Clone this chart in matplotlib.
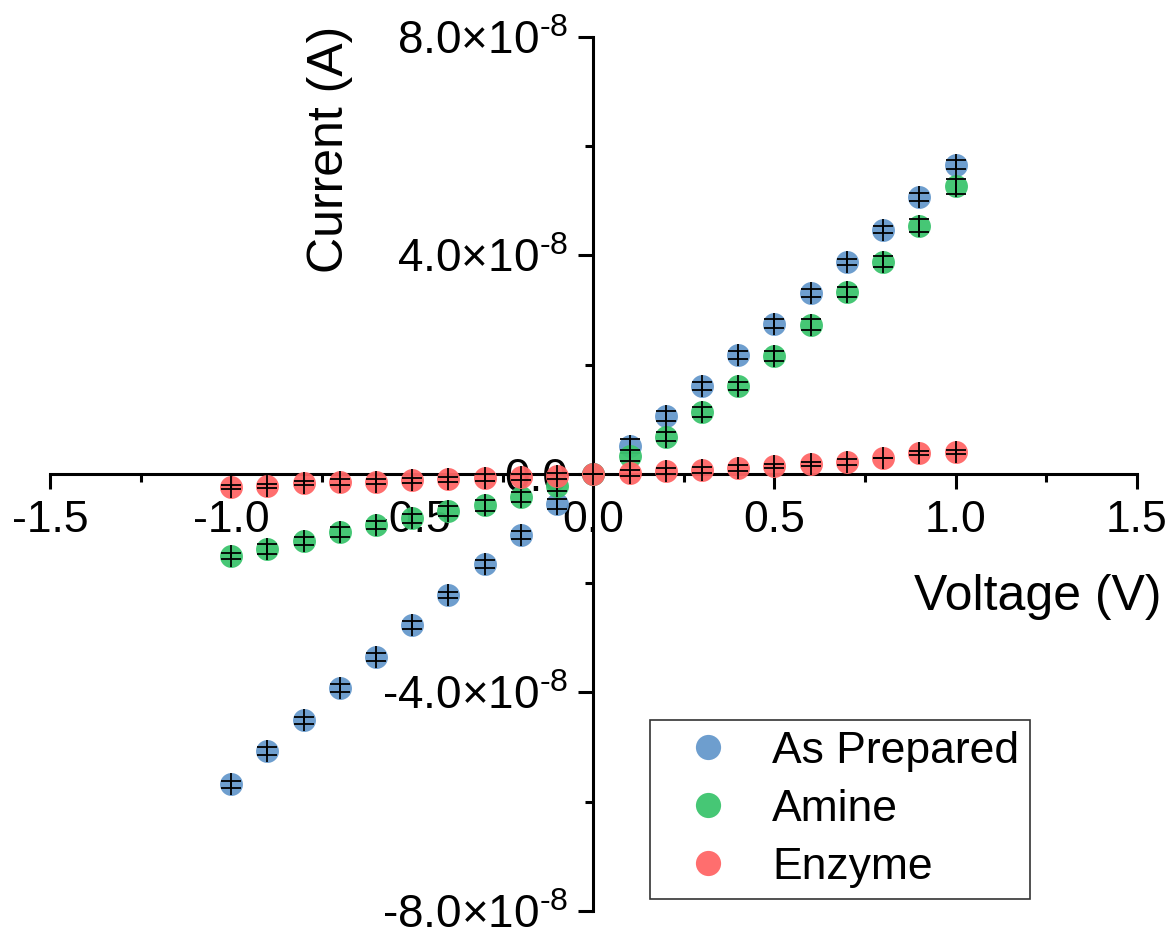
import matplotlib
matplotlib.use("Agg")
import matplotlib.pyplot as plt
from matplotlib.ticker import MultipleLocator, FuncFormatter

plt.rcParams['font.family'] = ['Liberation Sans', 'DejaVu Sans']
plt.rcParams['mathtext.fontset'] = 'custom'
plt.rcParams['mathtext.rm'] = 'Liberation Sans'
plt.rcParams['axes.unicode_minus'] = False

voltage = [-1.0, -0.9, -0.8, -0.7, -0.6, -0.5, -0.4, -0.3, -0.2, -0.1, 0.0,
           0.1, 0.2, 0.3, 0.4, 0.5, 0.6, 0.7, 0.8, 0.9, 1.0]

# currents in units of 1e-8 A
as_prepared = [-5.68, -5.07, -4.51, -3.92, -3.35, -2.77, -2.22, -1.65, -1.12, -0.55, 0.0,
               0.51, 1.06, 1.61, 2.18, 2.75, 3.31, 3.88, 4.47, 5.07, 5.66]
amine = [-1.50, -1.37, -1.23, -1.06, -0.93, -0.81, -0.68, -0.57, -0.42, -0.22, 0.0,
         0.33, 0.68, 1.14, 1.61, 2.16, 2.73, 3.33, 3.88, 4.54, 5.26]
enzyme = [-0.24, -0.22, -0.17, -0.15, -0.14, -0.12, -0.10, -0.07, -0.06, -0.04, 0.0,
          0.02, 0.05, 0.07, 0.11, 0.15, 0.18, 0.22, 0.29, 0.38, 0.40]

as_prepared_err = [0.06, 0.07, 0.06, 0.07, 0.08, 0.07, 0.06, 0.07, 0.08, 0.09, 0.0,
                   0.12, 0.09, 0.08, 0.07, 0.08, 0.07, 0.06, 0.07, 0.08, 0.08]
amine_err = [0.05, 0.09, 0.08, 0.09, 0.07, 0.08, 0.09, 0.10, 0.09, 0.10, 0.0,
             0.10, 0.08, 0.09, 0.08, 0.09, 0.10, 0.09, 0.10, 0.12, 0.13]
enzyme_err = [0.03, 0.03, 0.04, 0.05, 0.05, 0.05, 0.05, 0.06, 0.05, 0.06, 0.0,
              0.06, 0.05, 0.05, 0.05, 0.04, 0.04, 0.05, 0.0, 0.04, 0.03]

labels = ['As Prepared', 'Amine', 'Enzyme']
colors = ['#6699CC', '#3CC46E', '#FF6666']
series = [as_prepared, amine, enzyme]
errors = [as_prepared_err, amine_err, enzyme_err]

fig = plt.figure(figsize=(11.71, 9.36), dpi=100)
ax = fig.add_axes([0.0427, 0.0267, 0.928, 0.934])

for i, (ys, es) in enumerate(zip(series, errors)):
    y = [v * 1e-8 for v in ys]
    e = [v * 1e-8 for v in es]
    ax.plot(voltage, y, 'o', ms=16.5, color=colors[i], mec='none', alpha=0.95,
            label=labels[i], zorder=3 + 2 * i)
    ax.errorbar(voltage, y, yerr=e, fmt='none', ecolor='black', elinewidth=1.3,
                capsize=7.5, capthick=1.3, zorder=4 + 2 * i)
    ax.plot(voltage, y, '|', ms=16, mew=1.3, color='black', zorder=4 + 2 * i)

ax.set_xlim(-1.5, 1.5)
ax.set_ylim(-8e-8, 8e-8)
ax.spines['left'].set_position(('data', 0))
ax.spines['bottom'].set_position(('data', 0))
ax.spines['top'].set_visible(False)
ax.spines['right'].set_visible(False)
for s in ('left', 'bottom'):
    ax.spines[s].set_linewidth(2.2)

ax.xaxis.set_major_locator(MultipleLocator(0.5))
ax.xaxis.set_minor_locator(MultipleLocator(0.25))
ax.yaxis.set_major_locator(MultipleLocator(4e-8))
ax.yaxis.set_minor_locator(MultipleLocator(2e-8))
ax.xaxis.set_major_formatter(FuncFormatter(lambda v, p: '%.1f' % v))


def yfmt(v, p):
    if abs(v) < 1e-12:
        return '0.0'
    return '%.1f×10$^{\\text{-8}}$' % (v / 1e-8)


ax.yaxis.set_major_formatter(FuncFormatter(yfmt))
ax.tick_params(which='major', direction='out', length=11, width=2.2, labelsize=32)
ax.tick_params(which='minor', direction='out', length=6, width=2.2)
ax.tick_params(axis='x', which='major', pad=8)
ax.tick_params(axis='y', which='major', pad=7, labelsize=33)

fig.text(0.282, 0.84, 'Current (A)', rotation=90, ha='center', va='center', fontsize=36)
fig.text(0.886, 0.362, 'Voltage (V)', ha='center', va='center', fontsize=36)

leg = ax.legend(loc='upper left', bbox_to_anchor=(0.555, 0.231), bbox_transform=fig.transFigure,
                fontsize=32, frameon=True, fancybox=False, edgecolor='black',
                handlelength=2.1, handletextpad=0.4, labelspacing=0.38, borderpad=0.25,
                borderaxespad=0, markerscale=1.1)
leg.get_frame().set_linewidth(1.2)

fig.savefig('out.png', dpi=100)
